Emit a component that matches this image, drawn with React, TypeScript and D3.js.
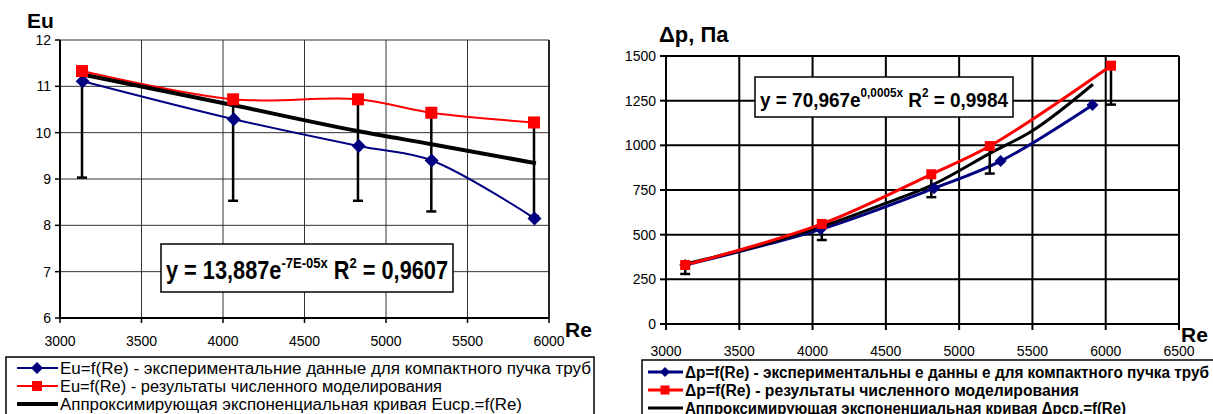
import React from 'react';
import * as d3 from 'd3';

// left chart: Eu vs Re
const RE_EXP_EU = [3139, 4066, 4833, 5280, 5911];
const EU_EXP = [11.11, 10.29, 9.71, 9.4, 8.15];
const RE_SIM_EU = [3135, 4062, 4828, 5278, 5908];
const EU_SIM = [11.33, 10.72, 10.72, 10.43, 10.22];
const EU_ERR_LOW = [9.03, 8.53, 8.53, 8.3, 8.2];
const RE_FIT_EU = [3130, 4066, 4833, 5280, 5920];
const EU_FIT = [11.26, 10.59, 10.03, 9.75, 9.34];
const EU_TICKS = [6, 7, 8, 9, 10, 11, 12];
const RE_TICKS_EU = [3000, 3500, 4000, 4500, 5000, 5500, 6000];
const LEGEND_EU = [
  'Eu=f(Re) - экспериментальние данные для компактного пучка труб',
  'Eu=f(Re) - результаты численного моделирования',
  'Аппроксимирующая экспоненциальная кривая Eucp.=f(Re)',
];

// right chart: Δp vs Re
const RE_EXP_DP = [3131, 4055, 4829, 5283, 5910];
const DP_EXP = [330, 530, 760, 912, 1226];
const RE_SIM_DP = [3131, 4063, 4810, 5209, 6036];
const DP_SIM = [330, 560, 838, 996, 1446];
const DP_ERR_LOW = [280, 470, 710, 842, 1228];
const RE_FIT_DP = [3131, 3500, 4063, 4500, 4811, 5210, 5500, 5913];
const DP_FIT = [336, 410, 545, 676, 776, 955, 1082, 1342];
const DP_TICKS = [0, 250, 500, 750, 1000, 1250, 1500];
const RE_TICKS_DP = [3000, 3500, 4000, 4500, 5000, 5500, 6000, 6500];
const LEGEND_DP = [
  'Δp=f(Re) - экспериментальны е данны е для компактного пучка труб',
  'Δp=f(Re) - результаты численного моделирования',
  'Аппроксимирующая экспоненциальная кривая Δpcp.=f(Re)',
];

const FONT = 'Liberation Sans, Arial, sans-serif';
const NAVY = '#000080';
const RED = '#ff0000';

const zip = (xs: number[], ys: number[]) => xs.map((x, i) => [x, ys[i]] as [number, number]);

const Diamond = ({ x, y, r }: { x: number; y: number; r: number }) => (
  <path d={`M${x},${y - r}L${x + r},${y}L${x},${y + r}L${x - r},${y}Z`} fill={NAVY} />
);

const Square = ({ x, y, s }: { x: number; y: number; s: number }) => (
  <rect x={x - s / 2} y={y - s / 2} width={s} height={s} fill={RED} />
);

function LeftChart() {
  const x = d3.scaleLinear().domain([3000, 6000]).range([60, 549]);
  const y = d3.scaleLinear().domain([6, 12]).range([318, 40]);
  const line = d3
    .line<[number, number]>()
    .x(d => x(d[0]))
    .y(d => y(d[1]))
    .curve(d3.curveCatmullRom.alpha(0.5));
  const fitLine = d3
    .line<[number, number]>()
    .x(d => x(d[0]))
    .y(d => y(d[1]))
    .curve(d3.curveMonotoneX);

  return (
    <g>
      {/* grid */}
      {RE_TICKS_EU.slice(1).map(t => (
        <line key={'gx' + t} x1={x(t)} x2={x(t)} y1={y(12)} y2={y(6)} stroke="#333" strokeWidth={1} />
      ))}
      {EU_TICKS.slice(1).map(t => (
        <line key={'gy' + t} x1={x(3000)} x2={x(6000)} y1={y(t)} y2={y(t)} stroke="#333" strokeWidth={1} />
      ))}
      <line x1={x(6000)} x2={x(6000)} y1={y(12)} y2={y(6)} stroke="#000" strokeWidth={1.5} />
      {/* axes */}
      <line x1={x(3000)} x2={x(3000)} y1={y(12)} y2={y(6)} stroke="#000" strokeWidth={2} />
      <line x1={x(3000)} x2={x(6000)} y1={y(6)} y2={y(6)} stroke="#000" strokeWidth={2} />
      {EU_TICKS.map(t => (
        <g key={'ty' + t}>
          <line x1={x(3000) - 5} x2={x(3000)} y1={y(t)} y2={y(t)} stroke="#000" strokeWidth={1.5} />
          <text x={x(3000) - 9} y={y(t) + 5} textAnchor="end" fontSize={14} fontFamily={FONT}>
            {t}
          </text>
        </g>
      ))}
      {RE_TICKS_EU.map(t => (
        <g key={'tx' + t}>
          <line x1={x(t)} x2={x(t)} y1={y(6)} y2={y(6) + 5} stroke="#000" strokeWidth={1.5} />
          <text x={x(t)} y={y(6) + 28} textAnchor="middle" fontSize={14} fontFamily={FONT}>
            {t}
          </text>
        </g>
      ))}
      <text x={27} y={28} fontSize={21} fontWeight="bold" fontFamily={FONT}>
        Eu
      </text>
      <text x={565} y={337} fontSize={21} fontWeight="bold" fontFamily={FONT}>
        Re
      </text>

      {/* series */}
      <path d={line(zip(RE_EXP_EU, EU_EXP)) || ''} fill="none" stroke={NAVY} strokeWidth={2} />
      <path d={line(zip(RE_SIM_EU, EU_SIM)) || ''} fill="none" stroke={RED} strokeWidth={2} />
      {RE_SIM_EU.map((r, i) => (
        <g key={'eb' + i}>
          <line x1={x(r)} x2={x(r)} y1={y(EU_SIM[i])} y2={y(EU_ERR_LOW[i])} stroke="#000" strokeWidth={2.5} />
          <line x1={x(r) - 5} x2={x(r) + 5} y1={y(EU_ERR_LOW[i])} y2={y(EU_ERR_LOW[i])} stroke="#000" strokeWidth={2.5} />
        </g>
      ))}
      <path d={fitLine(zip(RE_FIT_EU, EU_FIT)) || ''} fill="none" stroke="#000" strokeWidth={4} />
      {RE_EXP_EU.map((r, i) => (
        <Diamond key={'d' + i} x={x(r)} y={y(EU_EXP[i])} r={7} />
      ))}
      {RE_SIM_EU.map((r, i) => (
        <Square key={'s' + i} x={x(r)} y={y(EU_SIM[i])} s={12} />
      ))}

      {/* equation */}
      <rect x={161} y={244} width={292} height={48} fill="#fff" stroke="#000" strokeWidth={1.5} />
      <text x={166} y={279} fontSize={25} fontWeight="bold" fontFamily={FONT} textLength={282} lengthAdjust="spacingAndGlyphs">
        y = 13,887e
        <tspan fontSize={15} dy={-11}>-7E-05x</tspan>
        <tspan dy={11}> R</tspan>
        <tspan fontSize={15} dy={-11}>2</tspan>
        <tspan dy={11}> = 0,9607</tspan>
      </text>

      {/* legend */}
      <rect x={6} y={357} width={588} height={70} fill="#fff" stroke="#000" strokeWidth={1.5} />
      {LEGEND_EU.map((s, i) => {
        const ly = 368 + i * 18;
        return (
          <g key={'lg' + i}>
            <line x1={17} x2={58} y1={ly} y2={ly} stroke={[NAVY, RED, '#000'][i]} strokeWidth={i === 2 ? 4 : 2} />
            {i === 0 && <Diamond x={37} y={ly} r={6} />}
            {i === 1 && <Square x={37} y={ly} s={10} />}
            <text
              x={60}
              y={ly + 6}
              fontSize={16}
              fontFamily={FONT}
              textLength={[531, 382, 462][i]}
              lengthAdjust="spacingAndGlyphs"
            >
              {s}
            </text>
          </g>
        );
      })}
    </g>
  );
}

function RightChart() {
  const x = d3.scaleLinear().domain([3000, 6500]).range([666, 1179]);
  const y = d3.scaleLinear().domain([0, 1500]).range([324, 56]);
  const line = d3
    .line<[number, number]>()
    .x(d => x(d[0]))
    .y(d => y(d[1]))
    .curve(d3.curveCatmullRom.alpha(0.5));
  const fitLine = d3
    .line<[number, number]>()
    .x(d => x(d[0]))
    .y(d => y(d[1]))
    .curve(d3.curveMonotoneX);

  return (
    <g>
      {RE_TICKS_DP.slice(1).map(t => (
        <line key={'gx' + t} x1={x(t)} x2={x(t)} y1={y(1500)} y2={y(0)} stroke="#000" strokeWidth={2} />
      ))}
      {DP_TICKS.slice(1).map(t => (
        <line key={'gy' + t} x1={x(3000)} x2={x(6500)} y1={y(t)} y2={y(t)} stroke="#000" strokeWidth={2} />
      ))}
      <line x1={x(3000)} x2={x(3000)} y1={y(1500)} y2={y(0)} stroke="#000" strokeWidth={2} />
      <line x1={x(3000)} x2={x(6500)} y1={y(0)} y2={y(0)} stroke="#000" strokeWidth={2} />
      {DP_TICKS.map(t => (
        <g key={'ty' + t}>
          <line x1={x(3000) - 6} x2={x(3000)} y1={y(t)} y2={y(t)} stroke="#000" strokeWidth={2} />
          <text x={x(3000) - 10} y={y(t) + 5} textAnchor="end" fontSize={14} fontFamily={FONT}>
            {t}
          </text>
        </g>
      ))}
      {RE_TICKS_DP.map(t => (
        <g key={'tx' + t}>
          <line x1={x(t)} x2={x(t)} y1={y(0)} y2={y(0) + 6} stroke="#000" strokeWidth={2} />
          <text x={x(t)} y={y(0) + 32} textAnchor="middle" fontSize={14} fontFamily={FONT}>
            {t}
          </text>
        </g>
      ))}
      <text x={659} y={42} fontSize={22} fontWeight="bold" fontFamily={FONT}>
        Δp, Па
      </text>
      <text x={1181} y={342} fontSize={21} fontWeight="bold" fontFamily={FONT}>
        Re
      </text>

      <path d={line(zip(RE_EXP_DP, DP_EXP)) || ''} fill="none" stroke={NAVY} strokeWidth={3} />
      <path d={fitLine(zip(RE_FIT_DP, DP_FIT)) || ''} fill="none" stroke="#000" strokeWidth={3} />
      <path d={line(zip(RE_SIM_DP, DP_SIM)) || ''} fill="none" stroke={RED} strokeWidth={3} />
      {RE_SIM_DP.map((r, i) => (
        <g key={'eb' + i}>
          <line x1={x(r)} x2={x(r)} y1={y(DP_SIM[i])} y2={y(DP_ERR_LOW[i])} stroke="#000" strokeWidth={2.5} />
          <line x1={x(r) - 5} x2={x(r) + 5} y1={y(DP_ERR_LOW[i])} y2={y(DP_ERR_LOW[i])} stroke="#000" strokeWidth={2.5} />
        </g>
      ))}
      {RE_EXP_DP.map((r, i) => (
        <Diamond key={'d' + i} x={x(r)} y={y(DP_EXP[i])} r={6} />
      ))}
      {RE_SIM_DP.map((r, i) => (
        <Square key={'s' + i} x={x(r)} y={y(DP_SIM[i])} s={10} />
      ))}

      <rect x={755} y={77} width={258} height={40} fill="#fff" stroke="#000" strokeWidth={1.5} />
      <text x={760} y={107} fontSize={21} fontWeight="bold" fontFamily={FONT} textLength={248} lengthAdjust="spacingAndGlyphs">
        y = 70,967e
        <tspan fontSize={13} dy={-10}>0,0005x</tspan>
        <tspan dy={10}> R</tspan>
        <tspan fontSize={13} dy={-10}>2</tspan>
        <tspan dy={10}> = 0,9984</tspan>
      </text>

      <rect x={642} y={360} width={600} height={70} fill="#fff" stroke="#000" strokeWidth={1.5} />
      {LEGEND_DP.map((s, i) => {
        const ly = 372 + i * 18;
        return (
          <g key={'lg' + i}>
            <line x1={648} x2={683} y1={ly} y2={ly} stroke={[NAVY, RED, '#000'][i]} strokeWidth={3} />
            {i === 0 && <Diamond x={665} y={ly} r={5} />}
            {i === 1 && <Square x={665} y={ly} s={9} />}
            <text
              x={685}
              y={ly + 6}
              fontSize={16}
              fontWeight="bold"
              fontFamily={FONT}
              textLength={[524, 394, 441][i]}
              lengthAdjust="spacingAndGlyphs"
            >
              {s}
            </text>
          </g>
        );
      })}
    </g>
  );
}

export default function App() {
  return (
    <svg width={1213} height={414} style={{ position: 'absolute', left: 0, top: 0, background: '#fff' }}>
      <rect width={1213} height={414} fill="#fff" />
      <LeftChart />
      <RightChart />
    </svg>
  );
}
